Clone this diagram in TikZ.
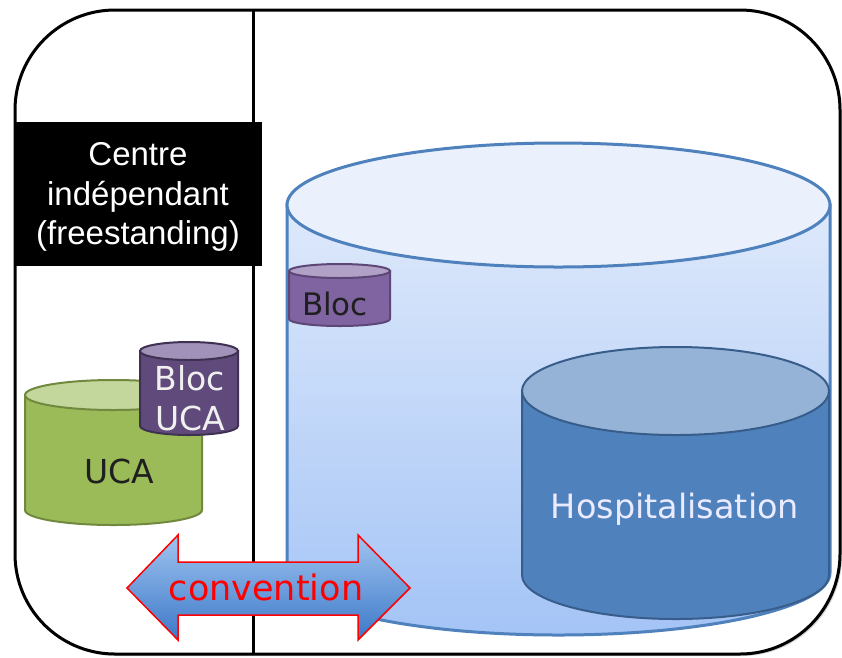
\documentclass[tikz,border=0pt]{standalone}
\usepackage{fontspec}
\setmainfont{Liberation Sans}
\newfontfamily\dvs{DejaVu Sans}
\usetikzlibrary{shadows}
\definecolor{bigtop}{RGB}{222,233,251}
\definecolor{bigbot}{RGB}{164,196,246}
\definecolor{bigcap}{RGB}{234,241,252}
\definecolor{bigline}{RGB}{79,129,189}
\definecolor{ucabody}{RGB}{155,187,89}
\definecolor{ucatop}{RGB}{195,214,155}
\definecolor{ucaline}{RGB}{113,137,63}
\definecolor{blocbody}{RGB}{96,74,123}
\definecolor{bloctop}{RGB}{160,146,184}
\definecolor{blocline}{RGB}{63,49,81}
\definecolor{sbbody}{RGB}{128,100,162}
\definecolor{sbtop}{RGB}{178,161,199}
\definecolor{sbline}{RGB}{92,71,118}
\definecolor{hbody}{RGB}{79,129,189}
\definecolor{htop}{RGB}{149,179,215}
\definecolor{hline}{RGB}{56,93,138}
\definecolor{arrtop}{RGB}{160,196,240}
\definecolor{arrbot}{RGB}{60,120,200}
\newcommand{\mycyl}[9]{%
  \pgfmathsetmacro\cylcx{(#1+#2)/2}%
  \pgfmathsetmacro\cylrx{(#2-#1)/2}%
  \path[#6,draw=#8,line width=#9pt] (#1,#4) arc[start angle=180,end angle=360,x radius=\cylrx pt,y radius=#5pt] -- (#2,#3) -- (#1,#3) -- cycle;
  \path[fill=#7,draw=#8,line width=#9pt] (\cylcx,#3) ellipse[x radius=\cylrx pt,y radius=#5pt];
}
\tikzset{
  lbl/.style={inner sep=0pt,font=\dvs\fontsize{33}{40}\selectfont},
}
\begin{document}
\begin{tikzpicture}[x=1pt,y=-1pt]
\useasboundingbox (0,0) rectangle (842,657);
% outer frame
\draw[line width=3pt,rounded corners=100pt,fill=white,
  drop shadow={shadow xshift=2pt,shadow yshift=-2pt,opacity=0.35}]
  (15,10) rectangle (840,654);
\coordinate (vtop) at (253,10);
\coordinate (vbot) at (253,654);
\draw[line width=3pt] (vtop) -- (vbot);
% black label box
\fill[black] (14,122) rectangle (262,266);
\node[inner sep=0pt,align=center,text=white,font=\fontsize{33}{39.5}\selectfont] (centre) at (138,197)
  {Centre\\ indépendant\\ (freestanding)};
% cylinders
\mycyl{25}{202}{395}{510}{15}{fill=ucabody}{ucatop}{ucaline}{2}
\mycyl{140}{238}{351}{426}{9}{fill=blocbody}{bloctop}{blocline}{2}
\mycyl{287}{830}{205}{573}{62}{top color=bigtop,bottom color=bigbot}{bigcap}{bigline}{3}
\mycyl{289}{390}{271}{319}{7}{fill=sbbody}{sbtop}{sbline}{2}
\mycyl{522}{829}{391}{575}{44}{fill=hbody}{htop}{hline}{2}
% double arrow
\path[top color=arrtop,bottom color=arrbot,draw=red,line width=1.5pt,line join=miter]
  (127,588) -- (178,535) -- (178,562) -- (358,562) -- (358,535) -- (410,588)
  -- (358,640) -- (358,615) -- (178,615) -- (178,640) -- cycle;
% labels
\node[lbl,anchor=base,text=black!88] (uca) at (119,483) {UCA};
\node[lbl,anchor=base,text=white!94!black] (blocuca1) at (190,390) {Bloc};
\node[lbl,anchor=base,text=white!94!black] (blocuca2) at (190,430) {UCA};
\node[lbl,anchor=base,text=black!88,font=\dvs\fontsize{31}{36}\selectfont] (bloc) at (335,315) {Bloc};
\node[lbl,anchor=base,text=white!92!blue,font=\dvs\fontsize{33.5}{38}\selectfont] (hosp) at (675,518) {Hospitalisation};
\node[lbl,anchor=base,text=red,font=\dvs\fontsize{35}{40}\selectfont] (conv) at (266,600) {convention};
\end{tikzpicture}
\end{document}
